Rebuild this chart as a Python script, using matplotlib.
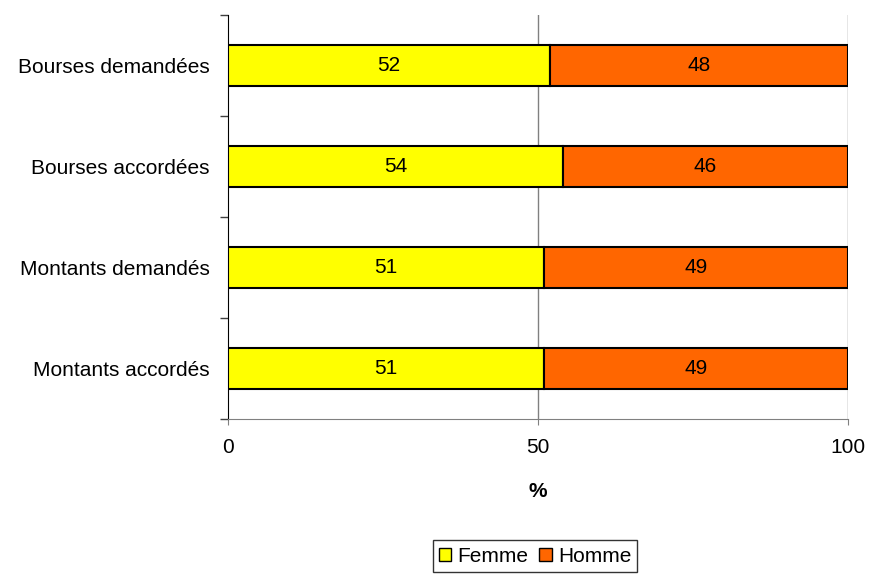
import matplotlib
matplotlib.use("Agg")
import matplotlib.pyplot as plt
from matplotlib.patches import Patch

plt.rcParams['font.family'] = ['Liberation Sans', 'DejaVu Sans']

categories = ["Bourses demandées", "Bourses accordées", "Montants demandés", "Montants accordés"]
femme = [52, 54, 51, 51]
homme = [48, 46, 49, 49]
xticks = [0, 50, 100]

FS = 15

fig = plt.figure(figsize=(8.69, 5.75), dpi=100)
ax = fig.add_axes([228/869, 1-419/575, 620/869, 404/575])

ypos = list(range(len(categories)))
ax.barh(ypos, femme, height=0.4, color='#FFFF00', edgecolor='black', linewidth=1.5, zorder=3)
ax.barh(ypos, homme, left=femme, height=0.4, color='#FF6600', edgecolor='black', linewidth=1.5, zorder=3)

for y, f, h in zip(ypos, femme, homme):
    ax.text(f/2, y, str(f), ha='center', va='center', fontsize=FS, zorder=4)
    ax.text(f + h/2, y, str(h), ha='center', va='center', fontsize=FS, zorder=4)

ax.set_xlim(0, 100)
ax.set_ylim(len(categories)-0.5, -0.5)
ax.set_xticks(xticks)
ax.set_xticklabels([str(t) for t in xticks], fontsize=FS)
ax.set_yticks(ypos)
ax.set_yticklabels(categories, fontsize=FS)
ax.tick_params(axis='y', length=0, pad=13)
ax.set_yticks([i - 0.5 for i in range(len(categories)+1)], minor=True)
ax.tick_params(axis='y', which='minor', length=6, width=1, color='#404040')
ax.tick_params(axis='x', length=4, color='gray', pad=10)

for g in [50, 100]:
    ax.axvline(g, color='gray', linewidth=1, zorder=1)

for s in ['top', 'right']:
    ax.spines[s].set_visible(False)
ax.spines['left'].set_color('black')
ax.spines['bottom'].set_color('gray')

ax.set_xlabel('%', fontsize=FS, fontweight='bold', labelpad=18)

handles = [Patch(facecolor='#FFFF00', edgecolor='black', label='Femme'),
           Patch(facecolor='#FF6600', edgecolor='black', label='Homme')]
leg = fig.legend(handles=handles, loc='center', bbox_to_anchor=(535/869, 1-556/575), ncol=2,
                 fontsize=FS, frameon=True, fancybox=False, edgecolor='black',
                 handlelength=0.6, handleheight=0.6, handletextpad=0.3, columnspacing=0.5,
                 borderpad=0.3)
leg.get_frame().set_linewidth(1)

fig.savefig("out.png", dpi=100)
